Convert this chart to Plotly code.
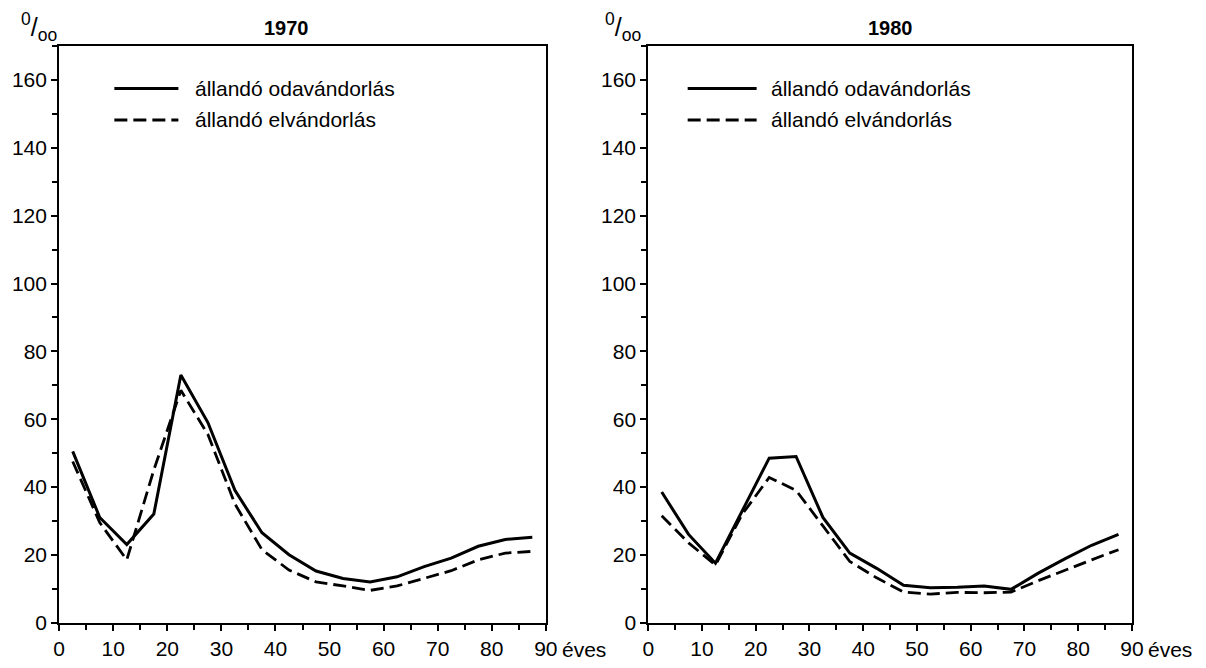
import plotly.graph_objects as go

# ---- data -------------------------------------------------------------
age = [2.5, 7.5, 12.5, 17.5, 22.5, 27.5, 32.5, 37.5, 42.5, 47.5,
       52.5, 57.5, 62.5, 67.5, 72.5, 77.5, 82.5, 87.5]
oda_1970 = [50.5, 31, 23, 32, 73, 59, 39, 26.5, 20, 15.2,
            13, 12, 13.5, 16.5, 19, 22.5, 24.5, 25.2]
el_1970 = [47.5, 29.5, 18.5, 45, 68.5, 55.5, 35, 21.5, 15.5, 12,
           10.8, 9.5, 10.8, 13, 15.3, 18.5, 20.5, 21]
oda_1980 = [38.5, 26, 17.5, 33, 48.5, 49, 31, 20.5, 16, 11,
            10.3, 10.4, 10.8, 9.8, 14.5, 18.8, 22.8, 26]
el_1980 = [31.5, 23.5, 17, 32, 42.8, 39, 28.5, 18, 13.2, 9,
           8.4, 8.9, 8.8, 9, 12.3, 15.5, 18.5, 21.5]

years = ["1970", "1980"]
series_names = ["állandó odavándorlás", "állandó elvándorlás"]
x_range = [0, 90]
y_range = [0, 170]
x_major, x_minor = 10, 5
y_major, y_minor = 20, 10
unit_label = "<sup>0</sup>/<sub>oo</sub>"
x_unit = "éves"

# ---- figure -----------------------------------------------------------
W, H = 1206, 668
FONT = "Liberation Sans"


def px(x):
    return x / W


def py(y):
    return 1 - y / H


fig = go.Figure()

solid = dict(color="black", width=3)
dashed = dict(color="black", width=2.8, dash="13px,6px")

fig.add_trace(go.Scatter(x=age, y=oda_1970, mode="lines", line=solid,
                         name=series_names[0], xaxis="x", yaxis="y"))
fig.add_trace(go.Scatter(x=age, y=el_1970, mode="lines", line=dashed,
                         name=series_names[1], xaxis="x", yaxis="y"))
fig.add_trace(go.Scatter(x=age, y=oda_1980, mode="lines", line=solid,
                         name=series_names[0], xaxis="x2", yaxis="y2"))
fig.add_trace(go.Scatter(x=age, y=el_1980, mode="lines", line=dashed,
                         name=series_names[1], xaxis="x2", yaxis="y2"))

ydom = [py(633), py(47)]
xdom1 = [px(54), px(548)]
xdom2 = [px(652), px(1143)]

tickfont = dict(family=FONT, size=21, color="black")
xaxis_common = dict(range=x_range, tickmode="linear", tick0=0, dtick=x_major,
                    ticks="outside", ticklen=6, tickwidth=1.5,
                    tickcolor="black", showline=True, linecolor="black",
                    linewidth=2, mirror=True, showgrid=False, zeroline=False,
                    minor=dict(dtick=x_minor, ticks="outside", ticklen=5,
                               tickwidth=1.5, tickcolor="black",
                               showgrid=False),
                    tickfont=tickfont)
yaxis_common = dict(range=y_range, tickmode="linear", tick0=0, dtick=y_major,
                    ticks="outside", ticklen=6, tickwidth=1.5,
                    tickcolor="black", showline=True, linecolor="black",
                    linewidth=2, mirror=True, showgrid=False, zeroline=False,
                    minor=dict(dtick=y_minor, ticks="outside", ticklen=5,
                               tickwidth=1.5, tickcolor="black",
                               showgrid=False),
                    tickfont=tickfont)

fig.update_layout(
    autosize=True,
    margin=dict(l=0, r=0, t=0, b=0),
    paper_bgcolor="white", plot_bgcolor="white",
    showlegend=False,
    font=dict(family=FONT, color="black"),
    xaxis=dict(domain=xdom1, anchor="y", **xaxis_common),
    yaxis=dict(domain=ydom, anchor="x", **yaxis_common),
    xaxis2=dict(domain=xdom2, anchor="y2", **xaxis_common),
    yaxis2=dict(domain=ydom, anchor="x2", **yaxis_common),
)

annotations = []
shapes = []
panels = [
    dict(title=years[0], title_x=285, unit_x=13, eves_x=562,
         leg_x0=110, leg_x1=175, text_x=190),
    dict(title=years[1], title_x=898, unit_x=606, eves_x=1157,
         leg_x0=692, leg_x1=762, text_x=775),
]
for p in panels:
    annotations.append(dict(text="<b>%s</b>" % p["title"], x=px(p["title_x"]),
                            y=py(28), xref="paper", yref="paper",
                            xanchor="center", yanchor="middle", showarrow=False,
                            font=dict(family=FONT, size=20, color="black")))
    annotations.append(dict(text=unit_label, x=px(p["unit_x"]), y=py(27),
                            xref="paper", yref="paper", xanchor="left",
                            yanchor="middle", showarrow=False,
                            font=dict(family=FONT, size=25, color="black")))
    annotations.append(dict(text=x_unit, x=px(p["eves_x"]), y=py(660),
                            xref="paper", yref="paper", xanchor="left",
                            yanchor="middle", showarrow=False,
                            font=dict(family=FONT, size=21, color="black")))
    for i, (yy, ln) in enumerate([(90, solid), (122, dashed)]):
        shapes.append(dict(type="line", xref="paper", yref="paper",
                           x0=px(p["leg_x0"]), x1=px(p["leg_x1"]),
                           y0=py(yy), y1=py(yy), line=ln))
        annotations.append(dict(text=series_names[i], x=px(p["text_x"]),
                                y=py(yy), xref="paper", yref="paper",
                                xanchor="left", yanchor="middle",
                                showarrow=False,
                                font=dict(family=FONT, size=21, color="black")))

fig.update_layout(annotations=annotations, shapes=shapes)

fig.write_html("out.html",
               config={"displayModeBar": False, "responsive": True},
               default_width="100vw", default_height="100vh",
               post_script="var d=document.getElementById('{plot_id}');"
                           "d.style.position='fixed';d.style.top='0';"
                           "d.style.left='0';"
                           "document.body.style.margin='0';"
                           "document.body.style.overflow='hidden';"
                           "Plotly.Plots.resize(d);")
